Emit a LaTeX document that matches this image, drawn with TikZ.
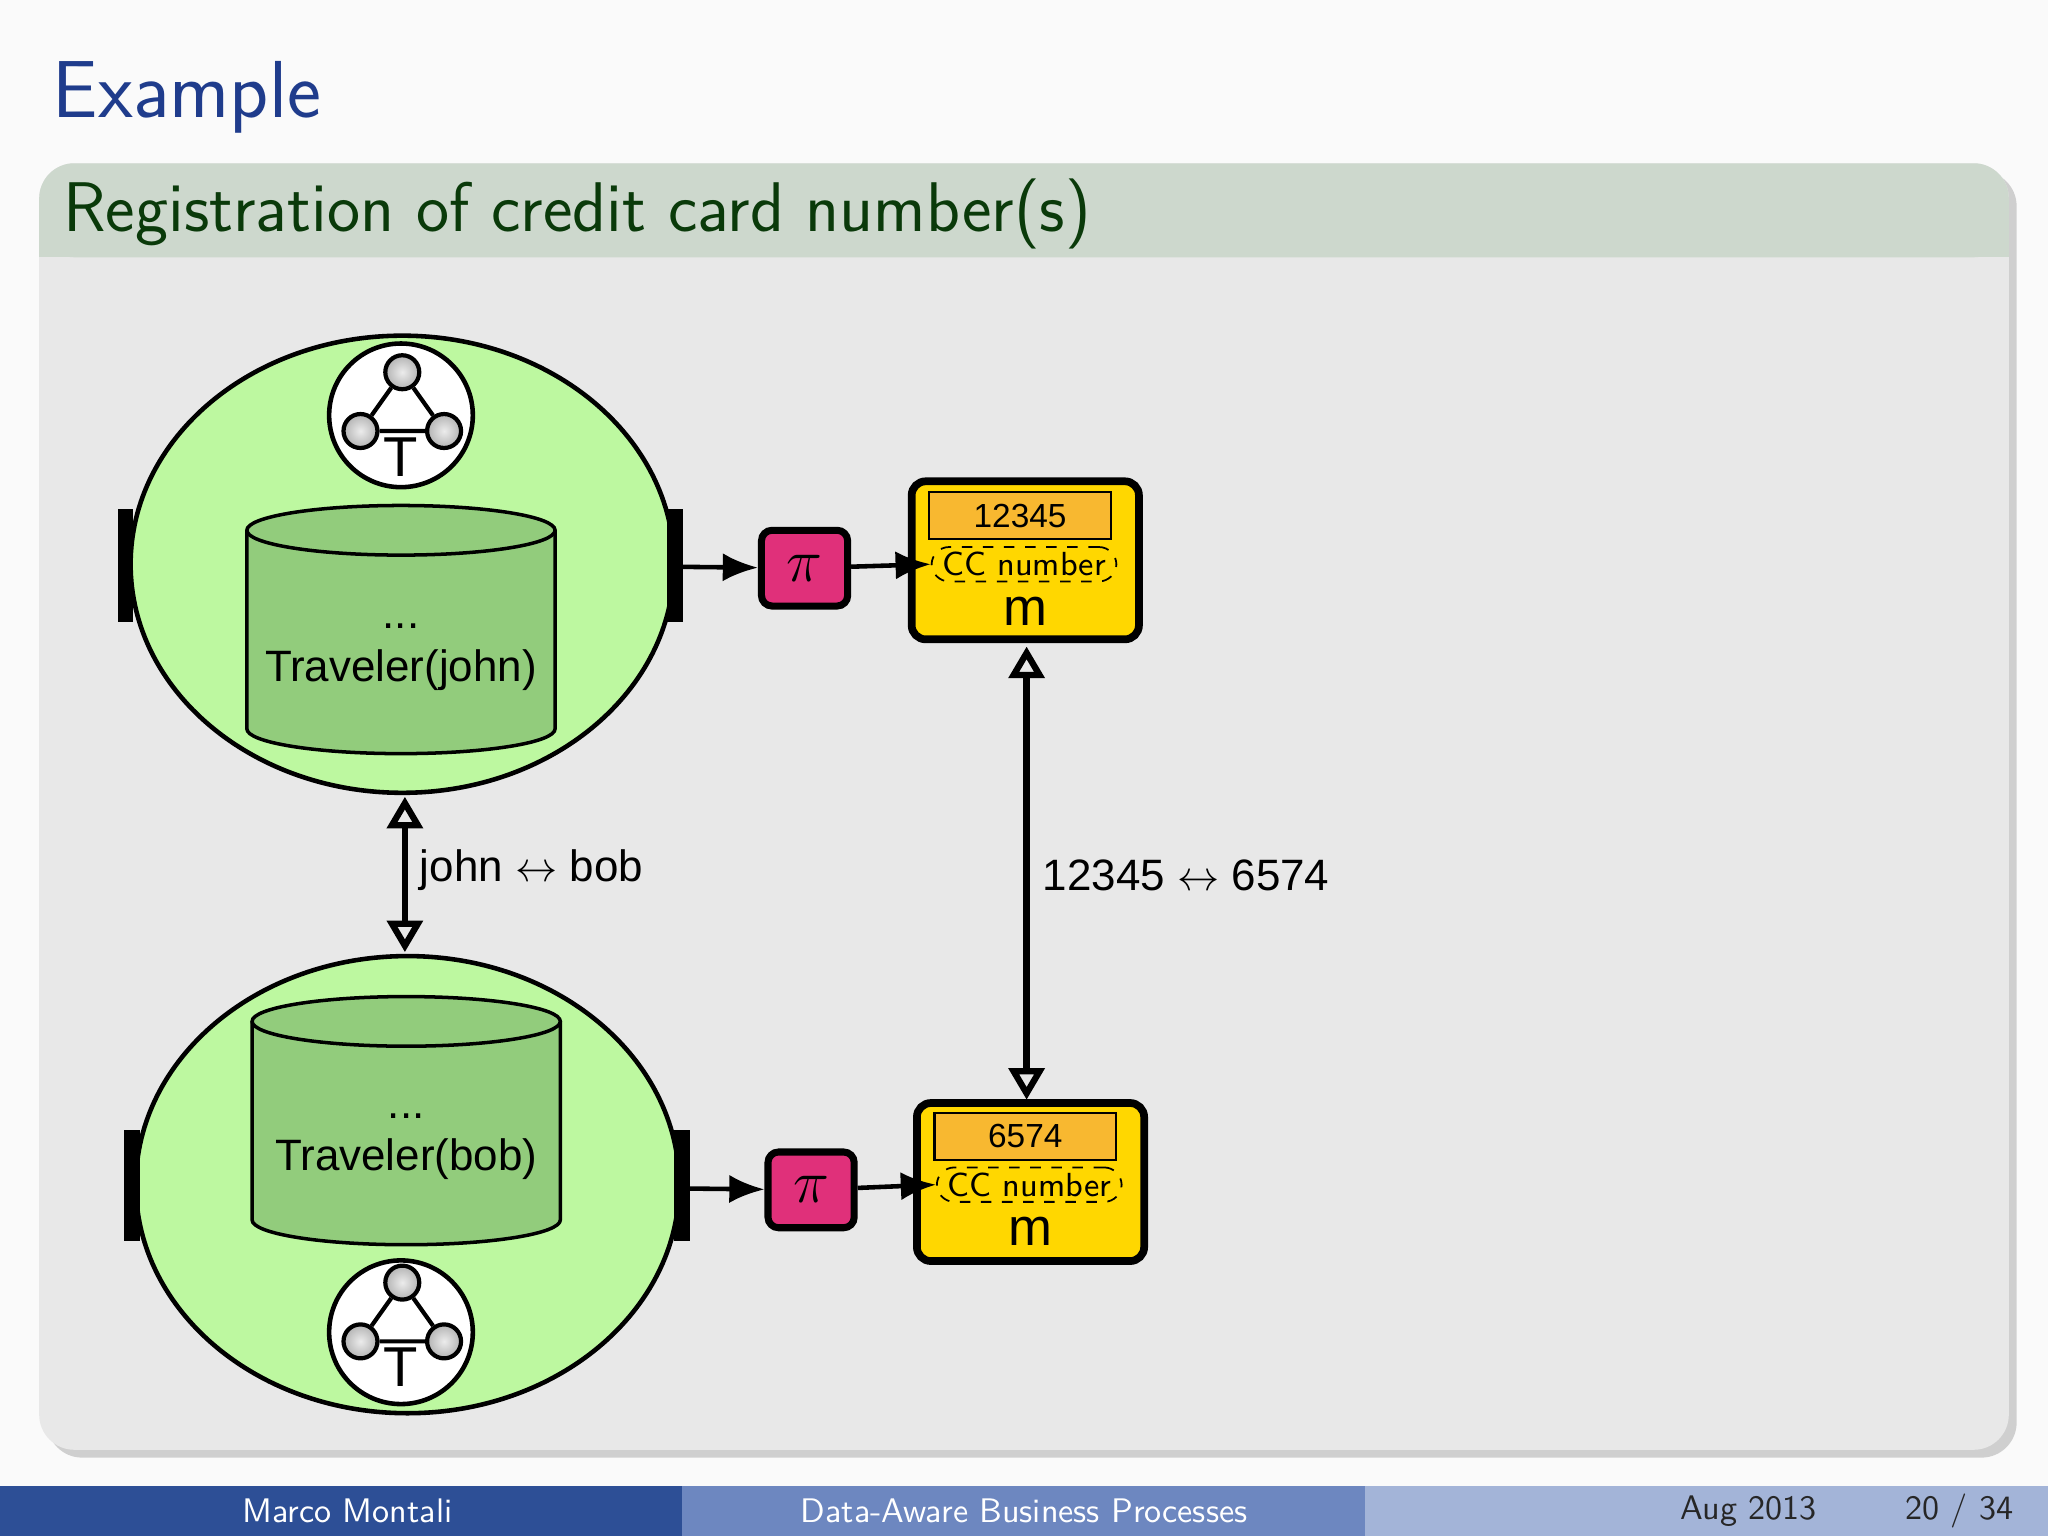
\documentclass[tikz,border=0pt]{standalone}
\usepackage{fontspec}
\setmainfont{Latin Modern Sans}
\newfontfamily\hv{Liberation Sans}
\usetikzlibrary{arrows.meta,shapes.geometric,shadows}
\definecolor{ttl}{HTML}{1F3C8C}
\definecolor{bar}{HTML}{CDD8CD}
\definecolor{body}{HTML}{E8E8E8}
\definecolor{egg}{HTML}{BDF8A0}
\definecolor{cyl}{HTML}{92CC7C}
\definecolor{pik}{HTML}{E0307A}
\definecolor{yel}{HTML}{FFD700}
\definecolor{org}{HTML}{F8B830}
\definecolor{fa}{HTML}{2D4F96}
\definecolor{fb}{HTML}{6D87C0}
\definecolor{fc}{HTML}{A3B4D8}
\definecolor{btc}{HTML}{0A3A0A}
\begin{document}
\begin{tikzpicture}[x=0.0130612cm,y=-0.0130612cm,
  port/.style={fill=black},
  cylf/.style={draw,line width=1pt,fill=cyl},
  dbtxt/.style={font=\hv\fontsize{12.5}{15}\selectfont,align=center,inner sep=0},
  pibox/.style={draw,line width=2pt,fill=pik,rounded corners=3pt,minimum width=66*0.0130612cm,minimum height=58*0.0130612cm,font=\fontsize{17}{17}\selectfont},
  ybox/.style={draw,line width=2.2pt,fill=yel,rounded corners=4pt,minimum width=174*0.0130612cm,minimum height=121*0.0130612cm},
  val/.style={draw,line width=0.6pt,fill=org,minimum width=139*0.0130612cm,minimum height=36*0.0130612cm,font=\hv\fontsize{9.5}{10}\selectfont,inner sep=0},
  ccn/.style={draw,dashed,line width=0.5pt,rounded corners=5pt,font=\fontsize{9.5}{10}\selectfont,inner ysep=1.5pt,inner xsep=3pt},
  mm/.style={font=\hv\fontsize{15}{15}\selectfont},
  flow/.style={-{Latex[length=10pt,width=8pt]},line width=1.3pt},
  iso/.style={{Triangle[open,length=9pt,width=10pt]}-{Triangle[open,length=9pt,width=10pt]},line width=1.8pt},
  lbl/.style={font=\hv\fontsize{12.5}{15}\selectfont},
  sball/.style={circle,draw,line width=1.2pt,inner sep=0,minimum size=26*0.0130612cm,shade,inner color=gray!15,outer color=gray!60},
]
\useasboundingbox (0,0) rectangle (1568,1176);
\fill[white!98!black] (0,0) rectangle (1568,1176);
\node[anchor=base west,text=ttl,font=\fontsize{23}{23}\selectfont,inner sep=0] (title) at (40,90) {Example};
% block
\fill[black!35,opacity=0.5,rounded corners=10pt] (36,131) rectangle (1544,1116);
\fill[body,rounded corners=10pt] (30,125) rectangle (1538,1110);
\fill[bar,rounded corners=10pt] (30,125) rectangle (1538,197);
\fill[bar] (30,170) rectangle (1538,197);
\node[anchor=base west,text=btc,font=\fontsize{20}{20}\selectfont,inner sep=0] (btitle) at (48,177) {Registration of credit card number(s)};
% footer
\fill[fa] (0,1138) rectangle (522,1176);
\fill[fb] (522,1138) rectangle (1045,1176);
\fill[fc] (1045,1138) rectangle (1568,1176);
\begin{scope}[every node/.style={font=\fontsize{9.7}{10}\selectfont,text=white,inner sep=0}]
\node (f1) at (266,1157) {Marco Montali};
\node (f2) at (784,1157) {Data-Aware Business Processes};
\node[text=black!85] (f3) at (1339,1157) {Aug 2013};
\node[text=black!85] (f4) at (1500,1157) {20 / 34};
\end{scope}
% top artifact
\fill[egg,draw=black,line width=1.3pt] (308,432) ellipse [x radius=208,y radius=175];
\fill[port] (90,390) rectangle (102,476);
\fill[port] (511,390) rectangle (523,476);
\coordinate (tp) at (523,434);
\node[circle,draw,fill=white,line width=1.3pt,minimum size=110*0.0130612cm] (ic1) at (307,318) {};
\node[sball] (a1) at (308,285) {};
\node[sball] (b1) at (276,330) {};
\node[sball] (c1) at (340,330) {};
\draw[line width=1.2pt] (a1)--(b1) (a1)--(c1) (b1)--(c1);
\node[font=\hv\fontsize{16}{16}\selectfont,inner sep=0] (t1) at (307,350) {T};
\draw[cylf] (189,406) -- (189,558) arc[start angle=180,end angle=0,x radius=118,y radius=19] -- (425,406);
\draw[cylf] (307,406) ellipse [x radius=118,y radius=19];
\node[dbtxt] (db1) at (307,503) {...\\Traveler(john)};
\node[pibox] (pi1) at (616,435) {$\pi$};
\node[ybox] (y1) at (785,429) {};
\node[val] (v1) at (781,395) {12345};
\node[ccn] (cc1) at (784,432) {CC number};
\node[mm] (m1) at (785,468) {m};
\draw[flow] (tp) -- (pi1);
\draw[flow] (pi1) -- (cc1.west);
% bottom artifact
\fill[egg,draw=black,line width=1.3pt] (312,907) ellipse [x radius=208,y radius=175];
\fill[port] (95,865) rectangle (107,950);
\fill[port] (516,865) rectangle (528,950);
\coordinate (bp) at (528,910);
\node[circle,draw,fill=white,line width=1.3pt,minimum size=110*0.0130612cm] (ic2) at (307,1020) {};
\node[sball] (a2) at (308,982) {};
\node[sball] (b2) at (276,1027) {};
\node[sball] (c2) at (340,1027) {};
\draw[line width=1.2pt] (a2)--(b2) (a2)--(c2) (b2)--(c2);
\node[font=\hv\fontsize{16}{16}\selectfont,inner sep=0] (t2) at (307,1047) {T};
\draw[cylf] (193,782) -- (193,934) arc[start angle=180,end angle=0,x radius=118,y radius=19] -- (429,782);
\draw[cylf] (311,782) ellipse [x radius=118,y radius=19];
\node[dbtxt] (db2) at (311,878) {...\\Traveler(bob)};
\node[pibox] (pi2) at (621,911) {$\pi$};
\node[ybox] (y2) at (789,905) {};
\node[val] (v2) at (785,870) {6574};
\node[ccn] (cc2) at (788,907) {CC number};
\node[mm] (m2) at (789,943) {m};
\draw[flow] (bp) -- (pi2);
\draw[flow] (pi2) -- (cc2.west);
% isomorphisms
\coordinate (ia) at (310,610);
\coordinate (ib) at (310,729);
\draw[iso] (ia) -- (ib);
\node[lbl,anchor=west] (l1) at (312,666) {john $\leftrightarrow$ bob};
\coordinate (ja) at (786,495);
\coordinate (jb) at (786,842);
\draw[iso] (ja) -- (jb);
\node[lbl,anchor=west] (l2) at (789,670) {12345 $\leftrightarrow$ 6574};
\end{tikzpicture}
\end{document}
